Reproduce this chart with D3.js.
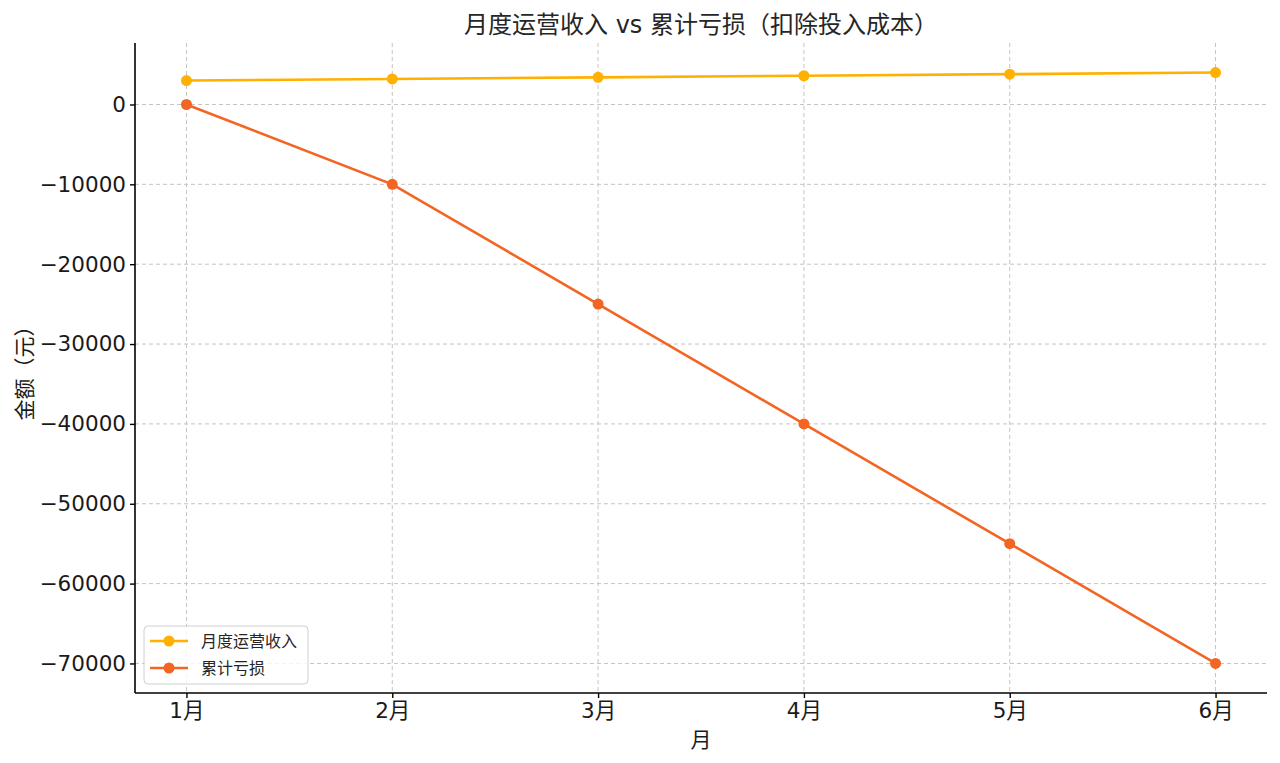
<!DOCTYPE html>
<html>
<head>
<meta charset="utf-8">
<script src="https://cdn.jsdelivr.net/npm/d3@7"></script>
<style>
  body { margin: 0; background: #fff; }
  svg { display: block; }
  svg text { font-family: "DejaVu Sans", "Noto Sans CJK SC", sans-serif; }
</style>
</head>
<body>
<svg id="chart" width="1280" height="763"></svg>
<script>
// Data
const months = [1, 2, 3, 4, 5, 6];
const monthLabels = ["1月", "2月", "3月", "4月", "5月", "6月"];
const incomeValues = [3000, 3200, 3400, 3600, 3800, 4000];
const cumulativeValues = [0, -10000, -25000, -40000, -55000, -70000];
const yTicks = [0, -10000, -20000, -30000, -40000, -50000, -60000, -70000];
const seriesNames = ["月度运营收入", "累计亏损"];

const titleText = "月度运营收入 vs 累计亏损（扣除投入成本）";
const xLabelText = "月";
const yLabelText = "金额（元）";

const colors = ["#ffb000", "#f26522"];
const fontFamily = '"DejaVu Sans", "Noto Sans CJK SC", sans-serif';

const svg = d3.select("#chart");
const margin = { top: 43, right: 13, bottom: 70, left: 135 };
const W = 1280, H = 763;
const innerWidth = W - margin.left - margin.right;
const innerHeight = H - margin.top - margin.bottom;

const g = svg.append("g").attr("transform", `translate(${margin.left},${margin.top})`);

// Scales (matplotlib-like 5% padding)
const x = d3.scaleLinear().domain([0.75, 6.25]).range([0, innerWidth]);
const yMin = -70000, yMax = 4000, pad = (yMax - yMin) * 0.05;
const y = d3.scaleLinear().domain([yMin - pad, yMax + pad]).range([innerHeight, 0]);

// Grid
g.append("g").selectAll("line").data(months).join("line")
  .attr("x1", d => x(d)).attr("x2", d => x(d))
  .attr("y1", 0).attr("y2", innerHeight)
  .attr("stroke", "#c4c4c4").attr("stroke-width", 1).attr("stroke-dasharray", "4,3");
g.append("g").selectAll("line").data(yTicks).join("line")
  .attr("x1", 0).attr("x2", innerWidth)
  .attr("y1", d => y(d)).attr("y2", d => y(d))
  .attr("stroke", "#c4c4c4").attr("stroke-width", 1).attr("stroke-dasharray", "4,3");

// Axes
const fmt = d => (d < 0 ? "\u2212" + Math.abs(d) : String(d));
const yAxis = g.append("g")
  .call(d3.axisLeft(y).tickValues(yTicks).tickFormat(fmt).tickSize(5).tickPadding(4));
const xAxis = g.append("g")
  .attr("transform", `translate(0,${innerHeight})`)
  .call(d3.axisBottom(x).tickValues(months).tickFormat((d, i) => monthLabels[i]).tickSize(5).tickPadding(5));
[xAxis, yAxis].forEach(a => {
  a.attr("font-family", fontFamily).attr("font-size", 21.5);
  a.select(".domain").attr("stroke", "#000").attr("stroke-width", 1.6);
  a.selectAll(".tick line").attr("stroke", "#000").attr("stroke-width", 1.4);
  a.selectAll(".tick text").attr("fill", "#1a1a1a");
});
// Remove domain end caps
yAxis.select(".domain").attr("d", `M0,0V${innerHeight}`);
xAxis.select(".domain").attr("d", `M0,0H${innerWidth}`);

// Lines
const seriesData = [incomeValues, cumulativeValues];
const line = d3.line().x((d, i) => x(months[i])).y(d => y(d));
seriesData.forEach((vals, k) => {
  g.append("path").datum(vals)
    .attr("fill", "none").attr("stroke", colors[k]).attr("stroke-width", 2.6)
    .attr("d", line);
  g.append("g").selectAll("circle").data(vals).join("circle")
    .attr("cx", (d, i) => x(months[i])).attr("cy", d => y(d))
    .attr("r", 5.5).attr("fill", colors[k]);
});

// Title & labels
svg.append("text")
  .attr("x", margin.left + innerWidth / 2).attr("y", 33)
  .attr("text-anchor", "middle").attr("fill", "#262626")
  .style("font-size", "24px").text(titleText);
svg.append("text")
  .attr("x", margin.left + innerWidth / 2).attr("y", 747)
  .attr("text-anchor", "middle").attr("fill", "#1a1a1a")
  .style("font-size", "21px").text(xLabelText);
svg.append("text")
  .attr("transform", `translate(32,${margin.top + y(-33000)}) rotate(-90)`)
  .attr("text-anchor", "middle").attr("fill", "#1a1a1a")
  .style("font-size", "21px").text(yLabelText);

// Legend
const lg = svg.append("g").attr("transform", "translate(144,626)");
lg.append("rect").attr("width", 164).attr("height", 58).attr("rx", 4)
  .attr("fill", "#fff").attr("fill-opacity", 0.8)
  .attr("stroke", "#d0d0d0").attr("stroke-width", 1);
seriesNames.forEach((name, k) => {
  const yy = 15 + k * 27;
  lg.append("line").attr("x1", 6).attr("x2", 44).attr("y1", yy).attr("y2", yy)
    .attr("stroke", colors[k]).attr("stroke-width", 2.6);
  lg.append("circle").attr("cx", 25).attr("cy", yy).attr("r", 5.5).attr("fill", colors[k]);
  lg.append("text").attr("x", 57).attr("y", yy + 6)
    .attr("fill", "#262626").style("font-size", "16px").text(name);
});
</script>
</body>
</html>
